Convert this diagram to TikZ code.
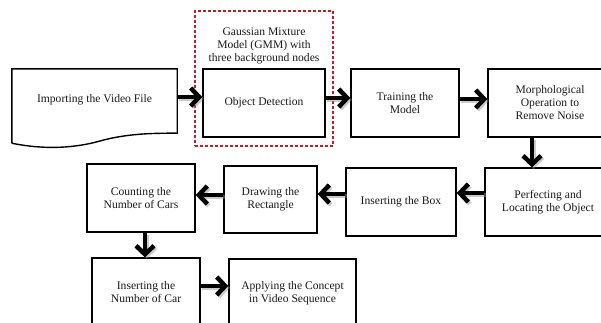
\documentclass[tikz,border=0pt]{standalone}
\usepackage{fontspec}
\setmainfont{Liberation Serif}
\usetikzlibrary{arrows.meta}
\definecolor{gmmred}{RGB}{190,30,40}
\tikzset{
  box/.style={draw=black, line width=1.4pt, rectangle, align=center, inner sep=0pt,
    font=\fontsize{11.6}{13}\selectfont, text=black!90},
  plain/.style={align=center, inner sep=0pt, font=\fontsize{11.6}{13}\selectfont, text=black!90},
  arr/.style={line width=4.5pt, -{Straight Barb[length=8.5pt,width=18pt]}},
  arrshadow/.style={arr, draw=black!45, opacity=0.45, transform canvas={shift={(1.6pt,-1.8pt)}}},
}
\newcommand{\flowarrow}[2]{\draw[arrshadow] #1 -- #2; \draw[arr] #1 -- #2;}
\begin{document}
\begin{tikzpicture}[x=1pt,y=-1pt]
\useasboundingbox (0,0) rectangle (601,322);
\clip (0,0) rectangle (601,322);
% document shape
\node[plain, minimum width=165pt, minimum height=62pt] (imp) at (94.5,100) {Importing the Video File};
\draw[line width=1.4pt] ([yshift=-12pt]imp.south west) -- (imp.north west) -- (imp.north east) -- ([yshift=-2pt]imp.south east)
  .. controls (150,133) and (125,134) .. (100,141) .. controls (75,148) and (45,150) .. ([yshift=-12pt]imp.south west);
% GMM dashed frame
\node[draw=gmmred, dash pattern=on 3pt off 2pt, line width=1.2pt, minimum width=138pt, minimum height=135pt, inner sep=0pt] (gmm) at (264,78.5) {};
\node[plain] (gmmtxt) at (264,46) {Gaussian Mixture\\Model (GMM) with\\three background nodes};
% boxes
\node[box, minimum width=122pt, minimum height=68pt] (od) at (264,103) {Object Detection};
\node[box, minimum width=108pt, minimum height=68pt] (tr) at (405,103) {Training the\\Model};
\node[box, minimum width=124pt, minimum height=68pt] (mo) at (550,103) {Morphological\\Operation to\\Remove Noise};
\node[box, minimum width=126pt, minimum height=68pt] (pe) at (548,202) {Perfecting and\\Locating the Object};
\node[box, minimum width=110pt, minimum height=68pt] (ib) at (401,202) {Inserting the Box};
\node[box, minimum width=93pt, minimum height=67pt] (dr) at (270.5,199.5) {Drawing the\\Rectangle};
\node[box, minimum width=108pt, minimum height=68pt] (co) at (141,198) {Counting the\\Number of Cars};
\node[box, minimum width=108pt, minimum height=68pt] (in) at (146,292) {Inserting the\\Number of Car};
\node[box, minimum width=127pt, minimum height=68pt] (ap) at (292.5,293) {Applying the Concept\\in Video Sequence};
% arrows
\flowarrow{([yshift=3pt]imp.east)}{([yshift=6pt]od.west)}
\flowarrow{([yshift=5pt]od.east)}{([yshift=5pt]tr.west)}
\flowarrow{([yshift=4pt]tr.east)}{([yshift=4pt]mo.west)}
\flowarrow{([xshift=-18pt]mo.south)}{([xshift=-16pt]pe.north)}
\flowarrow{([yshift=9pt]pe.west)}{([yshift=9pt]ib.east)}
\flowarrow{([yshift=8pt]ib.west)}{([yshift=5.5pt]dr.east)}
\flowarrow{([yshift=4.5pt]dr.west)}{([yshift=3pt]co.east)}
\flowarrow{([xshift=4pt]co.south)}{([xshift=-1pt]in.north)}
\flowarrow{([yshift=6pt]in.east)}{([yshift=7pt]ap.west)}
\end{tikzpicture}
\end{document}
